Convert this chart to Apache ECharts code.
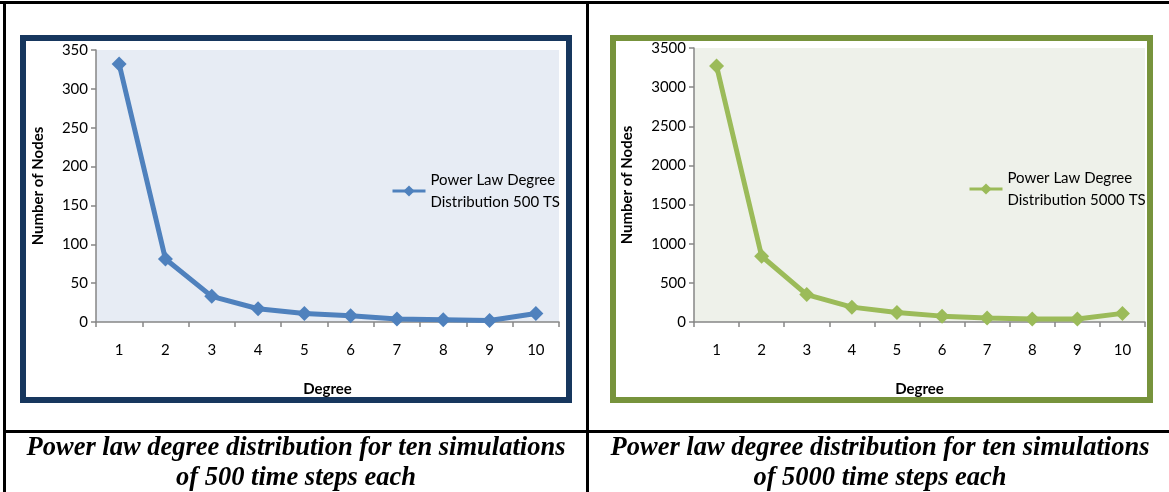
<!DOCTYPE html>
<html>
<head>
<meta charset="utf-8">
<title>Power law degree distribution</title>
<script src="https://cdn.jsdelivr.net/npm/echarts@6/dist/echarts.min.js"></script>
<style>
  html, body { margin: 0; padding: 0; background: #fff; }
  #chart { width: 1169px; height: 492px; }
</style>
</head>
<body>
<div id="chart"></div>
<script>
// Degree categories shared by both plots
var degrees = ['1', '2', '3', '4', '5', '6', '7', '8', '9', '10'];

// Number of nodes per degree, ten runs of 500 time steps
var nodes500 = [332, 81, 33, 17, 11, 8, 4, 3, 2, 11];
// Number of nodes per degree, ten runs of 5000 time steps
var nodes5000 = [3270, 840, 350, 190, 120, 75, 50, 38, 38, 110];

var name500 = 'Power Law Degree\nDistribution 500 TS';
var name5000 = 'Power Law Degree\nDistribution 5000 TS';

var captionLeft = ['Power law degree distribution for ten simulations', 'of 500 time steps each'];
var captionRight = ['Power law degree distribution for ten simulations', 'of 5000 time steps each'];

var FONT = 'Lato, "Open Sans", sans-serif';
var AXIS_GRAY = '#868686';

function catAxis(gridIndex) {
  return {
    type: 'category',
    gridIndex: gridIndex,
    data: degrees,
    boundaryGap: true,
    name: 'Degree',
    nameLocation: 'middle',
    nameGap: 60,
    nameTextStyle: { fontFamily: FONT, fontWeight: 'bold', fontSize: 15, color: '#000' },
    axisLine: { lineStyle: { color: AXIS_GRAY, width: 1.5 } },
    axisTick: { show: true, interval: 0, length: 5, lineStyle: { color: AXIS_GRAY, width: 1.5 } },
    axisLabel: { margin: 21, fontFamily: FONT, fontSize: 15, color: '#000' },
    splitLine: { show: false }
  };
}

function valAxis(gridIndex, max, interval, gap) {
  return {
    type: 'value',
    gridIndex: gridIndex,
    min: 0,
    max: max,
    interval: interval,
    name: 'Number of Nodes',
    nameLocation: 'middle',
    nameGap: gap,
    nameTextStyle: { fontFamily: FONT, fontWeight: 'bold', fontSize: 15, color: '#000' },
    axisLine: { show: true, lineStyle: { color: AXIS_GRAY, width: 1.5 } },
    axisTick: { show: true, length: 5, lineStyle: { color: AXIS_GRAY, width: 1.5 } },
    axisLabel: {
      margin: 8,
      fontFamily: FONT,
      fontSize: 15,
      color: '#000',
      formatter: function (v) { return String(v); }
    },
    splitLine: { show: false }
  };
}

function lineSeries(name, data, idx, color) {
  return {
    name: name,
    type: 'line',
    xAxisIndex: idx,
    yAxisIndex: idx,
    data: data,
    symbol: 'diamond',
    symbolSize: 15,
    lineStyle: { color: color, width: 5 },
    itemStyle: { color: color },
    emphasis: { disabled: true },
    z: 3
  };
}

function legendFor(name, left, top) {
  return {
    data: [name],
    left: left,
    top: top,
    orient: 'vertical',
    itemWidth: 33,
    itemHeight: 14,
    itemGap: 0,
    padding: 0,
    selectedMode: false,
    lineStyle: { width: 3 },
    textStyle: {
      fontFamily: FONT,
      fontSize: 15,
      color: '#000',
      lineHeight: 22,
      padding: [22, 0, 0, 0]
    }
  };
}

function captionText(x, y, str) {
  return {
    type: 'text',
    x: x,
    y: y,
    style: {
      text: str,
      fill: '#000',
      font: 'italic bold 26.5px "Liberation Serif", "Times New Roman", serif',
      textAlign: 'center',
      textVerticalAlign: 'middle'
    },
    z: 10
  };
}

var chart = echarts.init(document.getElementById('chart'), null, { renderer: 'canvas' });

var option = {
  animation: false,
  backgroundColor: '#ffffff',
  grid: [
    { left: 96, top: 50, width: 463, height: 272, show: true, backgroundColor: '#E7ECF4', borderWidth: 0 },
    { left: 694, top: 48, width: 451, height: 274, show: true, backgroundColor: '#EEF1EA', borderWidth: 0 }
  ],
  xAxis: [catAxis(0), catAxis(1)],
  yAxis: [valAxis(0, 350, 50, 50), valAxis(1, 3500, 500, 59)],
  legend: [
    legendFor(name500, 391, 158),
    legendFor(name5000, 968, 156)
  ],
  series: [
    lineSeries(name500, nodes500, 0, '#4F81BD'),
    lineSeries(name5000, nodes5000, 1, '#9BBB59')
  ],
  graphic: [
    // table rules
    { type: 'rect', shape: { x: 0, y: 1, width: 1169, height: 3 }, style: { fill: '#000' } },
    { type: 'rect', shape: { x: 3, y: 1, width: 3, height: 491 }, style: { fill: '#000' } },
    { type: 'rect', shape: { x: 586, y: 1, width: 3, height: 491 }, style: { fill: '#000' } },
    { type: 'rect', shape: { x: 3, y: 430, width: 1166, height: 3 }, style: { fill: '#000' } },
    // chart frames
    { type: 'rect', shape: { x: 23, y: 38, width: 546, height: 362 }, style: { fill: 'none', stroke: '#17375E', lineWidth: 6 }, z: 0 },
    { type: 'rect', shape: { x: 613, y: 38, width: 537, height: 362 }, style: { fill: 'none', stroke: '#77933C', lineWidth: 6 }, z: 0 },
    // captions
    captionText(296, 448, captionLeft[0]),
    captionText(296, 478, captionLeft[1]),
    captionText(880, 448, captionRight[0]),
    captionText(880, 478, captionRight[1])
  ]
};

chart.setOption(option);
</script>
</body>
</html>
